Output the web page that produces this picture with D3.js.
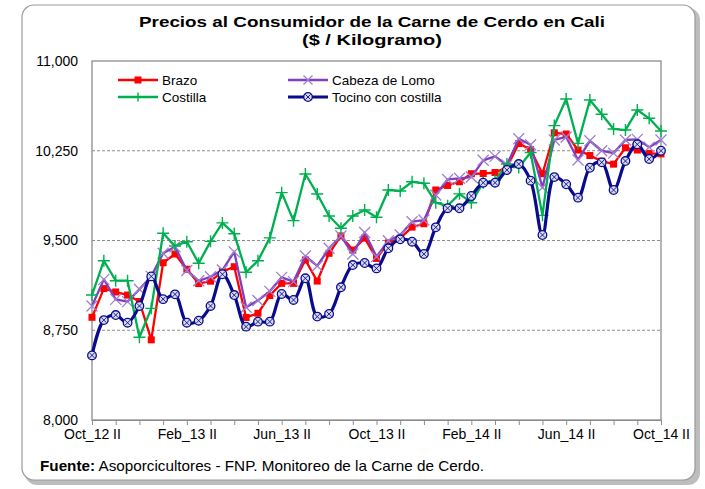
<!DOCTYPE html>
<html>
<head>
<meta charset="utf-8">
<script src="https://cdn.jsdelivr.net/npm/d3@7"></script>
<style>
  body { margin: 0; background: #fff; }
  svg text { font-family: "Liberation Sans", Arial, sans-serif; }
</style>
</head>
<body>
<svg id="chart" width="705" height="489"></svg>
<script>
// biweekly periods, Oct 2012 II .. Oct 2014 II
var periods = [
  "Oct_12 II","Nov_12 I","Nov_12 II","Dic_12 I","Dic_12 II","Ene_13 I","Ene_13 II","Feb_13 I","Feb_13 II",
  "Mar_13 I","Mar_13 II","Abr_13 I","Abr_13 II","May_13 I","May_13 II","Jun_13 I","Jun_13 II",
  "Jul_13 I","Jul_13 II","Ago_13 I","Ago_13 II","Sep_13 I","Sep_13 II","Oct_13 I","Oct_13 II",
  "Nov_13 I","Nov_13 II","Dic_13 I","Dic_13 II","Ene_14 I","Ene_14 II","Feb_14 I","Feb_14 II",
  "Mar_14 I","Mar_14 II","Abr_14 I","Abr_14 II","May_14 I","May_14 II","Jun_14 I","Jun_14 II",
  "Jul_14 I","Jul_14 II","Ago_14 I","Ago_14 II","Sep_14 I","Sep_14 II","Oct_14 I","Oct_14 II"
]
var tickLabels = ["Oct_12 II","Feb_13 II","Jun_13 II","Oct_13 II","Feb_14 II","Jun_14 II","Oct_14 II"]
var yTicks = [8000, 8750, 9500, 10250, 11000]

var brazo = [8858,9098,9070,9044,8990,8670,9314,9387,9260,9140,9160,9240,9281,8857,8892,9040,9142,
  9142,9337,9161,9393,9538,9420,9520,9350,9480,9520,9612,9640,9922,9960,9991,10058,
  10060,10068,10112,10310,10260,10058,10400,10390,10256,10210,10163,10138,10275,10256,10228,10224]
var cabeza = [8953,9175,9008,8989,9092,9200,9393,9448,9250,9163,9197,9253,9405,8942,8999,9075,9192,
  9156,9370,9287,9435,9538,9387,9567,9365,9498,9546,9657,9671,9880,10010,10020,10030,
  10170,10203,10131,10350,10300,9943,10340,10365,10173,10333,10250,10230,10340,10345,10280,10340]
var costilla = [9044,9331,9164,9164,8691,8933,9560,9454,9490,9310,9493,9647,9556,9235,9331,9522,9900,
  9666,10056,9889,9705,9602,9705,9755,9694,9922,9914,9991,9978,9816,9790,9890,9816,
  9983,10000,10139,10110,10235,9710,10460,10682,10312,10674,10555,10432,10423,10590,10521,10415]
var tocino = [8540,8835,8877,8813,8953,9200,9010,9050,8813,8830,8953,9218,9044,8780,8822,8822,9053,
  9003,9184,8864,8886,9109,9295,9312,9267,9435,9510,9490,9387,9610,9770,9769,9872,
  9983,9983,10089,10139,10000,9546,10030,9970,9858,10108,10153,9922,10164,10304,10181,10250]

var series = [
  {name: "Brazo", values: brazo, color: "#ff0000", marker: "square", width: 2.3},
  {name: "Cabeza de Lomo", values: cabeza, color: "#7f3fbf", mcolor: "#9f7fd0", marker: "x", width: 2.3},
  {name: "Costilla", values: costilla, color: "#00b050", marker: "plus", width: 2.3},
  {name: "Tocino con costilla", values: tocino, color: "#0a0a8c", marker: "circle", width: 3.2, smooth: true}
]

var svg = d3.select("#chart")

// outer frame with shadow
svg.append("rect").attr("x", 25).attr("y", 8).attr("width", 675).attr("height", 477)
  .attr("rx", 12).attr("fill", "#bdbdbd")
svg.append("rect").attr("x", 22).attr("y", 5).attr("width", 673).attr("height", 475)
  .attr("rx", 12).attr("fill", "#fff").attr("stroke", "#9a9a9a").attr("stroke-width", 1.2)

var pLeft = 92, pRight = 661, pTop = 61, pBottom = 420

var x = d3.scalePoint().domain(periods).range([pLeft, pRight])
var y = d3.scaleLinear().domain([8000, 11000]).range([pBottom, pTop])

// title
svg.append("text").attr("x", 372).attr("y", 27).attr("text-anchor", "middle")
  .attr("font-size", 15).attr("font-weight", "bold")
  .attr("textLength", 466).attr("lengthAdjust", "spacingAndGlyphs")
  .text("Precios al Consumidor de la Carne de Cerdo en Cali")
svg.append("text").attr("x", 372).attr("y", 45).attr("text-anchor", "middle")
  .attr("font-size", 15).attr("font-weight", "bold")
  .attr("textLength", 140).attr("lengthAdjust", "spacingAndGlyphs")
  .text("($ / Kilogramo)")

// grid
svg.selectAll(".grid").data([8750, 9500, 10250]).enter().append("line")
  .attr("x1", pLeft).attr("x2", pRight)
  .attr("y1", function(d){ return y(d) }).attr("y2", function(d){ return y(d) })
  .attr("stroke", "#8c8c8c").attr("stroke-dasharray", "3,2").attr("stroke-width", 1)

// plot border
svg.append("rect").attr("x", pLeft).attr("y", pTop).attr("width", pRight - pLeft).attr("height", pBottom - pTop)
  .attr("fill", "none").attr("stroke", "#8c8c8c").attr("stroke-width", 1.3)

// y axis
var yAxis = d3.axisLeft(y).tickValues(yTicks).tickSize(0).tickPadding(14).tickFormat(d3.format(","))
var gy = svg.append("g").attr("transform", "translate(" + pLeft + ",0)").call(yAxis)
gy.select(".domain").remove()
gy.selectAll("text").attr("font-size", 14).attr("fill", "#000")
  .attr("font-family", "'Liberation Sans', Arial, sans-serif")

// x axis
var xAxis = d3.axisBottom(x).tickValues(periods.filter(function(d, i){ return i % 2 == 0 }))
  .tickSize(5).tickPadding(4)
  .tickFormat(function(d){ return tickLabels.indexOf(d) >= 0 ? d : "" })
var gx = svg.append("g").attr("transform", "translate(0," + pBottom + ")").call(xAxis)
gx.select(".domain").attr("stroke", "#8c8c8c")
gx.selectAll(".tick line").attr("stroke", "#8c8c8c")
gx.selectAll("text").attr("font-size", 14).attr("fill", "#000")
  .attr("font-family", "'Liberation Sans', Arial, sans-serif")

// markers
var drawMarker = function(g, s, cx, cy, size){
  var c = s.mcolor || s.color
  var r
  if (s.marker == "square") {
    g.append("rect").attr("x", cx - 3.5).attr("y", cy - 3.5).attr("width", 7).attr("height", 7).attr("fill", c)
  } else if (s.marker == "x") {
    r = size || 5.5
    g.append("path").attr("d", "M" + (cx-r) + "," + (cy-r) + "L" + (cx+r) + "," + (cy+r) + "M" + (cx-r) + "," + (cy+r) + "L" + (cx+r) + "," + (cy-r))
      .attr("stroke", c).attr("stroke-width", 1.3).attr("fill", "none")
  } else if (s.marker == "plus") {
    r = size || 6
    g.append("path").attr("d", "M" + (cx-r) + "," + cy + "L" + (cx+r) + "," + cy + "M" + cx + "," + (cy-r) + "L" + cx + "," + (cy+r))
      .attr("stroke", c).attr("stroke-width", 1.4).attr("fill", "none")
  } else if (s.marker == "circle") {
    g.append("circle").attr("cx", cx).attr("cy", cy).attr("r", 4.3).attr("fill", "#d8dcf0")
      .attr("stroke", s.color).attr("stroke-width", 1.3)
    r = 2.7
    g.append("path").attr("d", "M" + (cx-r) + "," + (cy-r) + "L" + (cx+r) + "," + (cy+r) + "M" + (cx-r) + "," + (cy+r) + "L" + (cx+r) + "," + (cy-r))
      .attr("stroke", s.color).attr("stroke-width", 0.9)
  }
}

series.forEach(function(s){
  var line = d3.line()
    .x(function(d, i){ return x(periods[i]) })
    .y(function(d){ return y(d) })
    .curve(s.smooth ? d3.curveCatmullRom.alpha(0.5) : d3.curveLinear)
  var g = svg.append("g")
  g.append("path").datum(s.values).attr("d", line).attr("fill", "none")
    .attr("stroke", s.color).attr("stroke-width", s.width).attr("stroke-linejoin", "round")
  s.values.forEach(function(v, i){ drawMarker(g, s, x(periods[i]), y(v)) })
})

// legend
var legendPos = [
  {x: 118, y: 80}, {x: 288, y: 80}, {x: 118, y: 97}, {x: 288, y: 97}
]
series.forEach(function(s, i){
  var p = legendPos[i]
  var g = svg.append("g")
  g.append("line").attr("x1", p.x).attr("x2", p.x + 40).attr("y1", p.y).attr("y2", p.y)
    .attr("stroke", s.color).attr("stroke-width", s.width)
  drawMarker(g, s, p.x + 20, p.y, s.marker == "circle" ? null : 4.5)
  g.append("text").attr("x", p.x + 44).attr("y", p.y + 4.5).attr("font-size", 13.5).text(s.name)
})

// source
var src = svg.append("text").attr("x", 40).attr("y", 471).attr("font-size", 14.5)
  .attr("textLength", 444).attr("lengthAdjust", "spacingAndGlyphs")
src.append("tspan").attr("font-weight", "bold").text("Fuente:")
src.append("tspan").text(" Asoporcicultores - FNP. Monitoreo de la Carne de Cerdo.")
</script>
</body>
</html>
